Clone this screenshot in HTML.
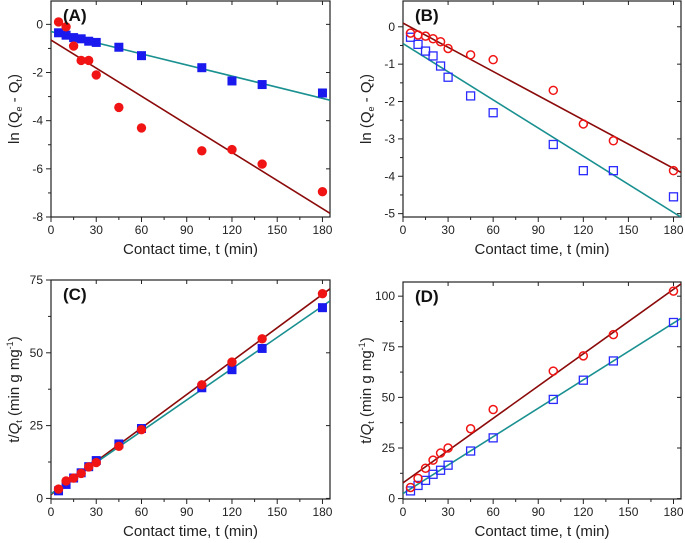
<!DOCTYPE html>
<html><head><meta charset="utf-8"><style>
body{margin:0;background:#fff;}
svg{display:block;font-family:"Liberation Sans",Arial,sans-serif;}
</style></head><body>
<svg id="fig" width="685" height="543" viewBox="0 0 685 543"></svg>
<script>
const times = [5,10,15,20,25,30,45,60,100,120,140,180];
const aRed = [0.1,-0.1,-0.9,-1.5,-1.5,-2.1,-3.45,-4.3,-5.25,-5.2,-5.8,-6.95];
const aBlue = [-0.35,-0.45,-0.55,-0.6,-0.7,-0.75,-0.95,-1.3,-1.8,-2.35,-2.5,-2.85];
const aRedFit = [-0.65,-0.0389];
const aBlueFit = [-0.3,-0.0154];
const bRed = [-0.17,-0.22,-0.25,-0.32,-0.4,-0.58,-0.75,-0.88,-1.7,-2.6,-3.05,-3.85];
const bBlue = [-0.28,-0.47,-0.65,-0.78,-1.05,-1.35,-1.85,-2.3,-3.15,-3.85,-3.85,-4.55];
const bRedFit = [0.1,-0.0216];
const bBlueFit = [-0.45,-0.0251];
const cRed = [3.2,6,7,8.6,10.8,12.3,17.9,23.6,39,46.8,54.8,70.3];
const cBlue = [2.6,4.8,7,8.8,10.9,13,18.7,24,38,44.2,51.5,65.5];
const cRedFit = [1.3,0.382];
const cBlueFit = [1.6,0.358];
const dRed = [5.5,10,15,19,22.5,25,34.5,44,63,70.5,81,102.5];
const dBlue = [3.8,6.5,9,12,14,16.5,23.5,30,49,58.5,68,87];
const dRedFit = [7.8,0.531];
const dBlueFit = [2.5,0.468];
const xTicks = [0,30,60,90,120,150,180];
const aYTicks = [0,-2,-4,-6,-8];
const bYTicks = [0,-1,-2,-3,-4,-5];
const cYTicks = [0,25,50,75];
const dYTicks = [0,25,50,75,100];

const NS="http://www.w3.org/2000/svg";
const svg=document.getElementById('fig');
function mk(tag,attrs,parent){const e=document.createElementNS(NS,tag);for(const k in attrs)e.setAttribute(k,attrs[k]);(parent||svg).appendChild(e);return e;}

function panel(cfg){
  const g=mk('g',{});
  
  
  const {L,R,T,B,x0,x1,y0,y1}=cfg;
  const sx=v=>L+(v-x0)/(x1-x0)*(R-L);
  const sy=v=>B-(v-y0)/(y1-y0)*(B-T);
  const frame=mk('rect',{x:L,y:T,width:R-L,height:B-T,fill:'none',stroke:'#222','stroke-width':1.2},g);
  
  
  xTicks.forEach(t=>{
    mk('line',{x1:sx(t),x2:sx(t),y1:B,y2:B+5,stroke:'#222','stroke-width':1},g);
    mk('line',{x1:sx(t),x2:sx(t),y1:T,y2:T+4,stroke:'#222','stroke-width':1},g);
    const tx=mk('text',{x:sx(t),y:B+17,'font-size':12,'text-anchor':'middle',fill:'#222'},g);
    tx.textContent=t;
    
    
  });
  for(let t=15;t<185;t+=30){mk('line',{x1:sx(t),x2:sx(t),y1:B,y2:B+3,stroke:'#222','stroke-width':1},g);}
  cfg.yTicks.forEach((t,i)=>{
    mk('line',{x1:L-5,x2:L,y1:sy(t),y2:sy(t),stroke:'#222','stroke-width':1},g);
    mk('line',{x1:R-4,x2:R,y1:sy(t),y2:sy(t),stroke:'#222','stroke-width':1},g);
    const ty=mk('text',{x:L-8,y:sy(t)+4,'font-size':12,'text-anchor':'end',fill:'#222'},g);
    ty.textContent=t;
    
    
    if(i<cfg.yTicks.length-1){const m=(t+cfg.yTicks[i+1])/2;mk('line',{x1:L-3,x2:L,y1:sy(m),y2:sy(m),stroke:'#222','stroke-width':1},g);}
  });
  const clip='clip'+cfg.id;
  const cp=mk('clipPath',{id:clip},g);mk('rect',{x:L,y:T,width:R-L,height:B-T},cp);
  const lg=mk('g',{'clip-path':'url(#'+clip+')'},g);
  [[cfg.redFit,'#8b0a0a','fit-line-red'],[cfg.blueFit,'#1a9090','fit-line-teal']].forEach(([f,c,n])=>{
    const l=mk('line',{x1:sx(x0),y1:sy(f[0]+f[1]*x0),x2:sx(x1),y2:sy(f[0]+f[1]*x1),stroke:c,'stroke-width':1.6},lg);
    
    
  });
  const drawBlue=()=>times.forEach((t,i)=>{
    const s=cfg.open?8:9;
    const m=mk('rect',{x:sx(t)-s/2,y:sy(cfg.blue[i])-s/2,width:s,height:s,fill:cfg.open?'none':'#1a1aee',stroke:cfg.open?'#2a2aff':'none','stroke-width':1.3},g);
    
    
  });
  const drawRed=()=>times.forEach((t,i)=>{
    const m=mk('circle',{cx:sx(t),cy:sy(cfg.red[i]),r:cfg.open?4:4.7,fill:cfg.open?'none':'#f01414',stroke:cfg.open?'#f01414':'none','stroke-width':1.5},g);
    
    
  });
  drawBlue();drawRed();
  const pl=mk('text',{x:L+12,y:T+20,'font-size':17,'font-weight':'bold',fill:'#111'},g);
  pl.textContent='('+cfg.id+')';
  
  
  const xl=mk('text',{x:(L+R)/2,y:B+37,'font-size':15,'text-anchor':'middle',fill:'#222'},g);
  xl.textContent='Contact time, t (min)';
  
  
  const yl=mk('text',{x:0,y:0,'font-size':15,'text-anchor':'middle',fill:'#222',transform:`translate(${cfg.ylx},${(T+B)/2}) rotate(-90)`},g);
  yl.innerHTML=cfg.ylab;
  
  
}
const lnLab='ln (Q<tspan font-size="9" dy="3">e</tspan><tspan dy="-3"> - Q</tspan><tspan font-size="9" dy="3">t</tspan><tspan dy="-3">)</tspan>';
const tqLab='t/<tspan font-style="italic">Q</tspan><tspan font-size="9" dy="3">t</tspan><tspan dy="-3"> (min g mg</tspan><tspan font-size="9" dy="-6">-1</tspan><tspan dy="6">)</tspan>';
panel({id:'A',L:51,R:330,T:1,B:217,x0:0,x1:185,y0:-8,y1:0.97,yTicks:aYTicks,red:aRed,blue:aBlue,redFit:aRedFit,blueFit:aBlueFit,open:false,ylx:19,ylab:lnLab});
panel({id:'B',L:403,R:681,T:1,B:217,x0:0,x1:185,y0:-5.09,y1:0.69,yTicks:bYTicks,red:bRed,blue:bBlue,redFit:bRedFit,blueFit:bBlueFit,open:true,ylx:371,ylab:lnLab});
panel({id:'C',L:51,R:330,T:280,B:499,x0:0,x1:185,y0:-0.2,y1:75,yTicks:cYTicks,red:cRed,blue:cBlue,redFit:cRedFit,blueFit:cBlueFit,open:false,ylx:19,ylab:tqLab});
panel({id:'D',L:403,R:681,T:282,B:499,x0:0,x1:185,y0:-0.2,y1:107,yTicks:dYTicks,red:dRed,blue:dBlue,redFit:dRedFit,blueFit:dBlueFit,open:true,ylx:371,ylab:tqLab});
</script>
</body></html>
